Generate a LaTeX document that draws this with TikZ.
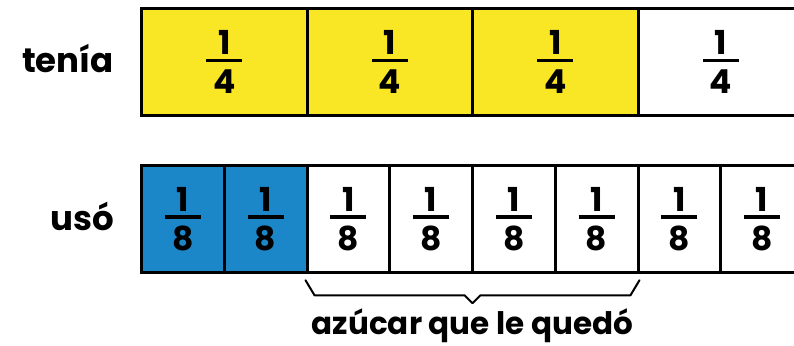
\documentclass[tikz,border=0pt]{standalone}
\usepackage{fontspec}
\setmainfont{Poppins}
\usetikzlibrary{positioning}

\definecolor{sugar}{HTML}{F9E625}
\definecolor{used}{HTML}{1B87C8}

% stacked fraction with a thick bar
\newcommand{\fr}[2]{\vbox{\offinterlineskip
  \hbox to 36pt{\hss#1\hss}\kern4pt\hrule height 3.5pt\kern7pt
  \hbox to 36pt{\hss#2\hss}}}

\tikzset{
  cell/.style={draw=black, line width=3pt, minimum height=107.5pt, inner sep=0pt,
    font=\fontsize{33}{33}\selectfont\bfseries},
  quarter/.style={cell, minimum width=165.5pt},
  eighth/.style={cell, minimum width=82.75pt},
  lbl/.style={font=\fontsize{34}{34}\selectfont\bfseries, inner sep=0pt},
  brace/.style={draw=black, line width=2pt, line join=round, line cap=round},
}

\begin{document}
\begin{tikzpicture}[x=1pt, y=-1pt]
    \clip (0,0) rectangle (794,345);
    % - Top bar: quarters
    \foreach \i/\c in {1/sugar,2/sugar,3/sugar,4/white}
        \node[quarter, fill=\c] (q\i) at (165.5*\i+58.75, 62) {\fr{1}{4}};
    % - Bottom bar: eighths
    \foreach \i/\c in {1/used,2/used,3/white,4/white,5/white,6/white,7/white,8/white}
        \node[eighth, fill=\c] (e\i) at (82.75*\i+100.125, 219) {\fr{1}{8}};
    % - Row labels
    \node[lbl, left=26pt of q1, yshift=3pt] (tenia) {tenía};
    \node[lbl, left=26pt of e1, yshift=3pt] (uso) {usó};
    % - Brace under the leftover eighths
    \coordinate (bl) at ([yshift=-6pt]e3.south west);
    \coordinate (br) at ([yshift=-6pt]e6.south east);
    \draw[brace] (bl) -- ++(9,15) -- ++(150,0) -- ++(8,8) coordinate (tip)
        -- ++(8,-8) -- ++(150,0) -- (br);
    \node[lbl, font=\fontsize{31}{31}\selectfont\bfseries, below=5pt of tip] (rest)
        {azúcar que le quedó};
\end{tikzpicture}
\end{document}
